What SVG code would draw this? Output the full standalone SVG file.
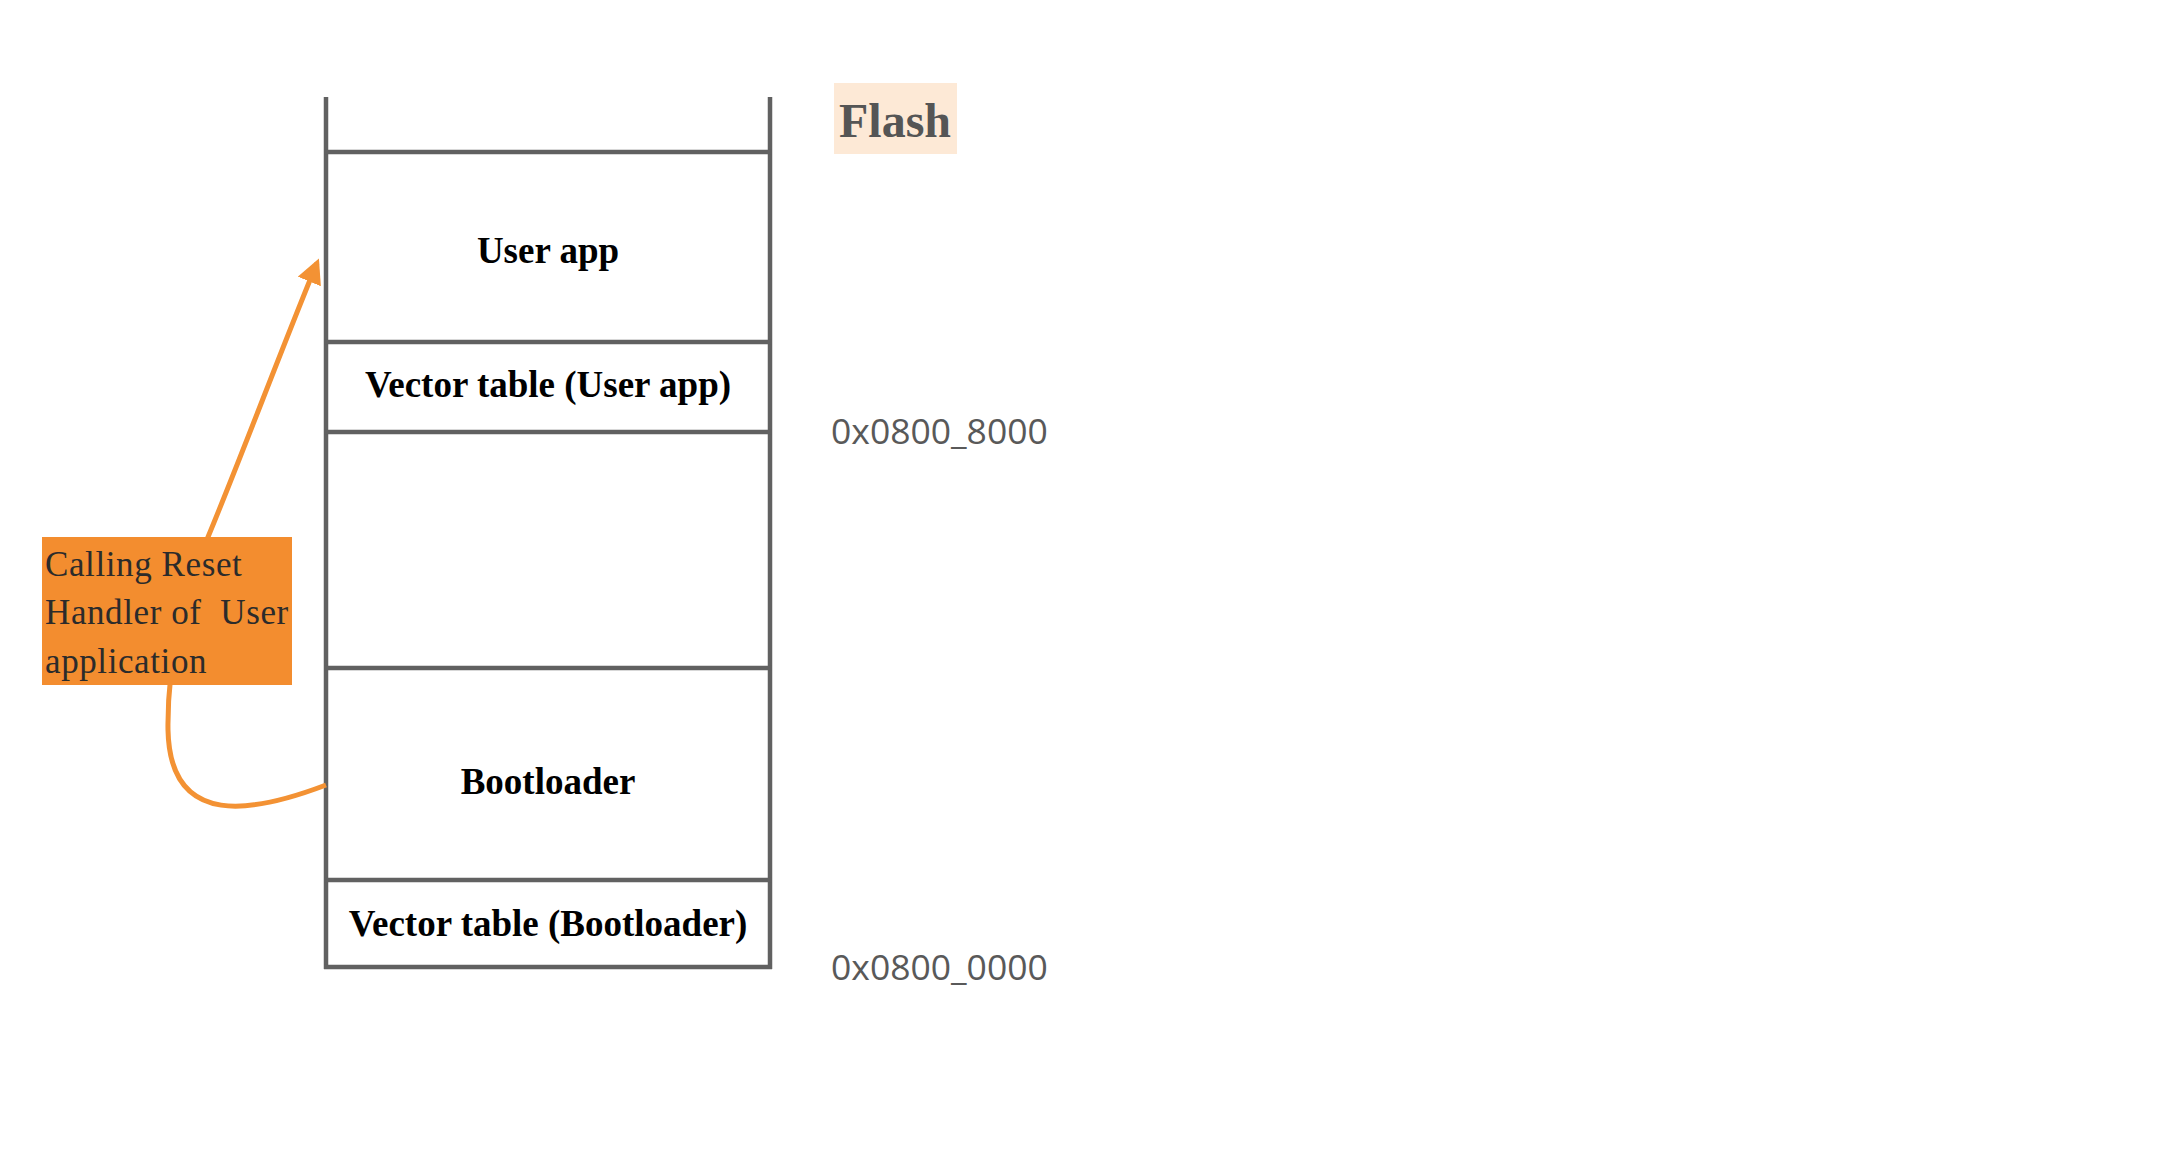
<svg xmlns="http://www.w3.org/2000/svg" width="2174" height="1174" viewBox="0 0 2174 1174">
<style>
.ln{stroke:#616161;stroke-width:4.5;fill:none;stroke-linecap:butt}
.lbl{font-family:"Liberation Serif",serif;font-weight:bold;font-size:37px;fill:#000;text-anchor:middle}
.addr{font-family:"Open Sans","DejaVu Sans",sans-serif;font-size:35.5px;fill:#595959}
.note{font-family:"Liberation Serif",serif;font-size:35px;fill:#2b2b2b;letter-spacing:0.6px}
</style>
<defs>
<marker id="ah" viewBox="0 0 10 10" refX="8" refY="5" markerWidth="5" markerHeight="5" orient="auto" markerUnits="strokeWidth">
<path d="M0,0 L10,5 L0,10 z" fill="#F39234"/>
</marker>
</defs>
<rect width="2174" height="1174" fill="#fff"/>
<g id="memory">
<line class="ln" x1="326" y1="97" x2="326" y2="969"/>
<line class="ln" x1="770" y1="97" x2="770" y2="969"/>
<line class="ln" x1="324" y1="152" x2="772" y2="152"/>
<line class="ln" x1="324" y1="342" x2="772" y2="342"/>
<line class="ln" x1="324" y1="432" x2="772" y2="432"/>
<line class="ln" x1="324" y1="668" x2="772" y2="668"/>
<line class="ln" x1="324" y1="880" x2="772" y2="880"/>
<line class="ln" x1="324" y1="967" x2="772" y2="967"/>
</g>
<g id="user-app"><text class="lbl" x="548" y="263">User app</text></g>
<g id="vt-user"><text class="lbl" x="548" y="397">Vector table (User app)</text></g>
<g id="gap"></g>
<g id="bootloader"><text class="lbl" x="548" y="794">Bootloader</text></g>
<g id="vt-boot"><text class="lbl" x="548" y="936">Vector table (Bootloader)</text></g>
<g id="flash">
<rect x="834" y="83" width="123" height="71" fill="#FDE9D6"/>
<text x="895" y="137" font-family="Liberation Serif,serif" font-weight="bold" font-size="48" fill="#555" text-anchor="middle">Flash</text>
</g>
<g id="addr-8000"><text class="addr" x="831" y="444">0x0800_8000</text></g>
<g id="addr-0000"><text class="addr" x="831" y="980">0x0800_0000</text></g>
<g id="connectors">
<path d="M326,785 C255,812 170,830 168,730 C167,660 185,590 208,537 C240,460 285,340 317,263" fill="none" stroke="#F39234" stroke-width="5" marker-end="url(#ah)"/>
</g>
<g id="note">
<rect x="42" y="537" width="250" height="148" fill="#F38D2F"/>
<text class="note" x="45" y="576">Calling Reset</text>
<text class="note" x="45" y="624" xml:space="preserve">Handler of  User</text>
<text class="note" x="45" y="673">application</text>
</g>
</svg>
